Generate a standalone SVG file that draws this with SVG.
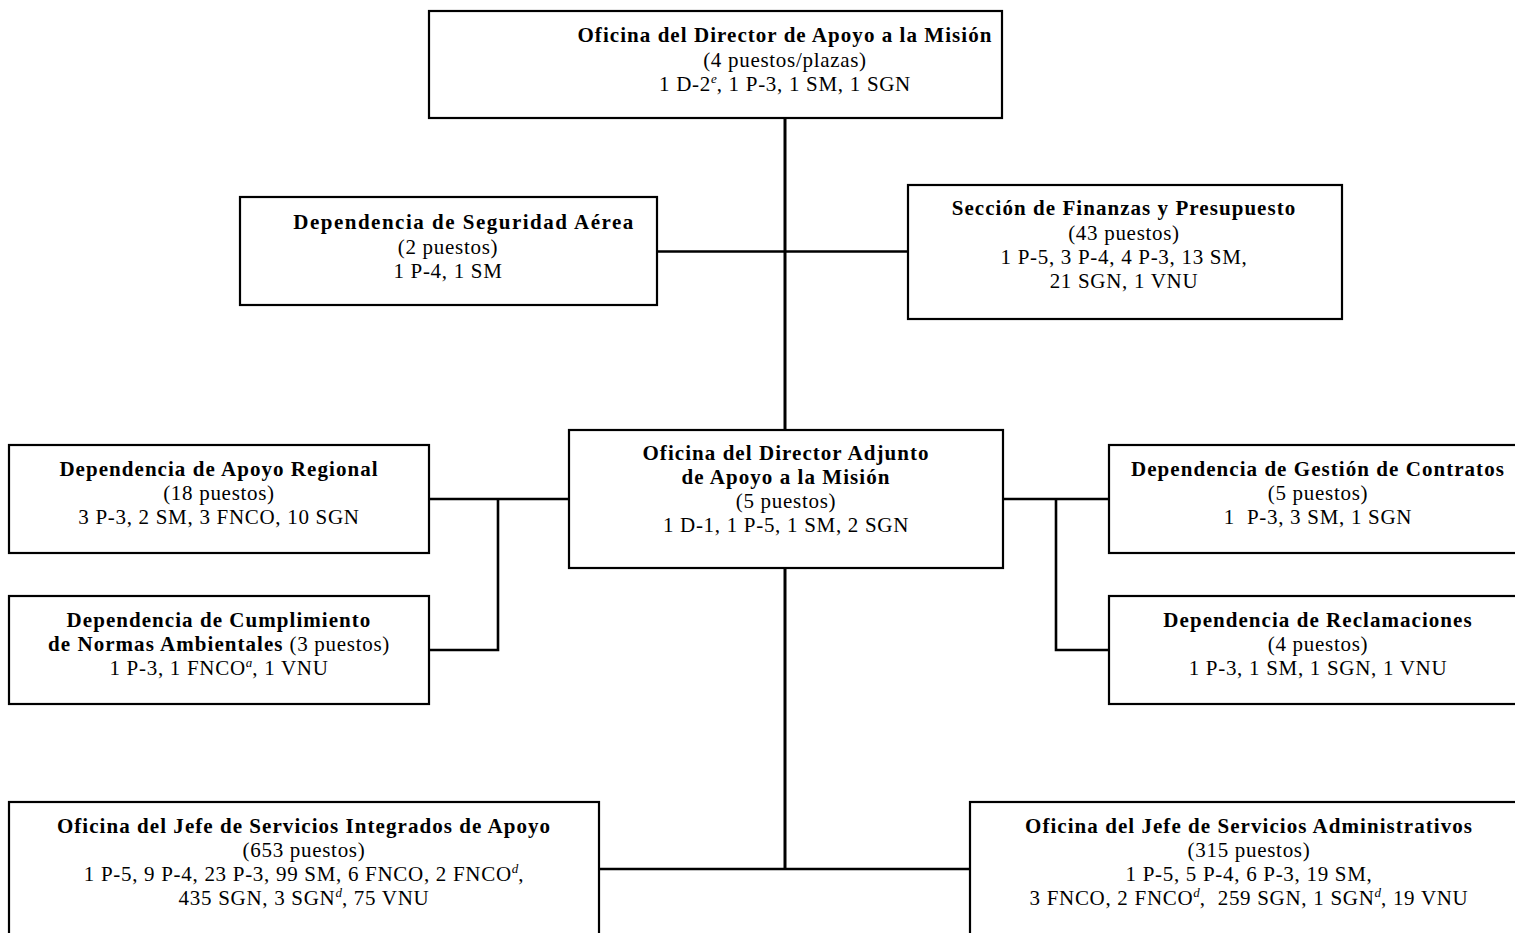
<svg xmlns="http://www.w3.org/2000/svg" width="1515" height="933" viewBox="0 0 1515 933">
<style>
text{font-family:"Liberation Serif","Times New Roman",serif;font-size:21px;fill:#000;text-anchor:middle;letter-spacing:0.7px}
.b{font-weight:bold;letter-spacing:1.05px}
.r{font-weight:normal;letter-spacing:0.7px}
.sup{font-style:italic;font-size:13px;letter-spacing:0}
.box{fill:#fff;stroke:#000;stroke-width:2.2}
.con{fill:none;stroke:#000;stroke-width:2.6}
</style>
<rect width="1515" height="933" fill="#fff"/>
<g id="connectors">
<line class="con" x1="785" y1="118" x2="785" y2="430" style="stroke-width:3"/>
<line class="con" x1="657" y1="251.5" x2="908" y2="251.5"/>
<line class="con" x1="785" y1="568" x2="785" y2="869" style="stroke-width:3"/>
<line class="con" x1="599" y1="869" x2="970" y2="869"/>
<polyline class="con" points="429,499 569,499"/>
<polyline class="con" points="498,499 498,650 429,650"/>
<polyline class="con" points="1003,499 1109,499"/>
<polyline class="con" points="1056,499 1056,650 1109,650"/>
</g>
<g id="director">
<rect class="box" x="429" y="11" width="573" height="107"/>
<text x="785" y="42" class="b">Oficina del Director de Apoyo a la Misión</text>
<text x="785" y="67">(4 puestos/plazas)</text>
<text x="785" y="91">1 D-2<tspan class="sup" dy="-8">e</tspan><tspan dy="8">, 1 P-3, 1 SM, 1 SGN</tspan></text>
</g>
<g id="seguridad">
<rect class="box" x="240" y="197" width="417" height="108"/>
<text x="464" y="229" class="b" style="letter-spacing:1.5px">Dependencia de Seguridad Aérea</text>
<text x="448" y="254">(2 puestos)</text>
<text x="448" y="278">1 P-4, 1 SM</text>
</g>
<g id="finanzas">
<rect class="box" x="908" y="185" width="434" height="134"/>
<text x="1124" y="215" class="b">Sección de Finanzas y Presupuesto</text>
<text x="1124" y="240">(43 puestos)</text>
<text x="1124" y="264">1 P-5, 3 P-4, 4 P-3, 13 SM,</text>
<text x="1124" y="288">21 SGN, 1 VNU</text>
</g>
<g id="adjunto">
<rect class="box" x="569" y="430" width="434" height="138"/>
<text x="786" y="460" class="b">Oficina del Director Adjunto</text>
<text x="786" y="484" class="b">de Apoyo a la Misión</text>
<text x="786" y="508">(5 puestos)</text>
<text x="786" y="532">1 D-1, 1 P-5, 1 SM, 2 SGN</text>
</g>
<g id="regional">
<rect class="box" x="9" y="445" width="420" height="108"/>
<text x="219" y="476" class="b">Dependencia de Apoyo Regional</text>
<text x="219" y="500">(18 puestos)</text>
<text x="219" y="524">3 P-3, 2 SM, 3 FNCO, 10 SGN</text>
</g>
<g id="ambientales">
<rect class="box" x="9" y="596" width="420" height="108"/>
<text x="219" y="627" class="b">Dependencia de Cumplimiento</text>
<text x="219" y="651" class="b">de Normas Ambientales<tspan class="r"> (3 puestos)</tspan></text>
<text x="219" y="675">1 P-3, 1 FNCO<tspan class="sup" dy="-8">a</tspan><tspan dy="8">, 1 VNU</tspan></text>
</g>
<g id="contratos">
<rect class="box" x="1109" y="445" width="420" height="108"/>
<text x="1318" y="476" class="b">Dependencia de Gestión de Contratos</text>
<text x="1318" y="500">(5 puestos)</text>
<text x="1318" y="524" xml:space="preserve">1  P-3, 3 SM, 1 SGN</text>
</g>
<g id="reclamaciones">
<rect class="box" x="1109" y="596" width="420" height="108"/>
<text x="1318" y="627" class="b">Dependencia de Reclamaciones</text>
<text x="1318" y="651">(4 puestos)</text>
<text x="1318" y="675">1 P-3, 1 SM, 1 SGN, 1 VNU</text>
</g>
<g id="integrados">
<rect class="box" x="9" y="802" width="590" height="140"/>
<text x="304" y="833" class="b">Oficina del Jefe de Servicios Integrados de Apoyo</text>
<text x="304" y="857">(653 puestos)</text>
<text x="304" y="881">1 P-5, 9 P-4, 23 P-3, 99 SM, 6 FNCO, 2 FNCO<tspan class="sup" dy="-8">d</tspan><tspan dy="8">,</tspan></text>
<text x="304" y="905">435 SGN, 3 SGN<tspan class="sup" dy="-8">d</tspan><tspan dy="8">, 75 VNU</tspan></text>
</g>
<g id="administrativos">
<rect class="box" x="970" y="802" width="560" height="140"/>
<text x="1249" y="833" class="b">Oficina del Jefe de Servicios Administrativos</text>
<text x="1249" y="857">(315 puestos)</text>
<text x="1249" y="881">1 P-5, 5 P-4, 6 P-3, 19 SM,</text>
<text x="1249" y="905" xml:space="preserve">3 FNCO, 2 FNCO<tspan class="sup" dy="-8">d</tspan><tspan dy="8">,  259 SGN, 1 SGN</tspan><tspan class="sup" dy="-8">d</tspan><tspan dy="8">, 19 VNU</tspan></text>
</g>
</svg>
